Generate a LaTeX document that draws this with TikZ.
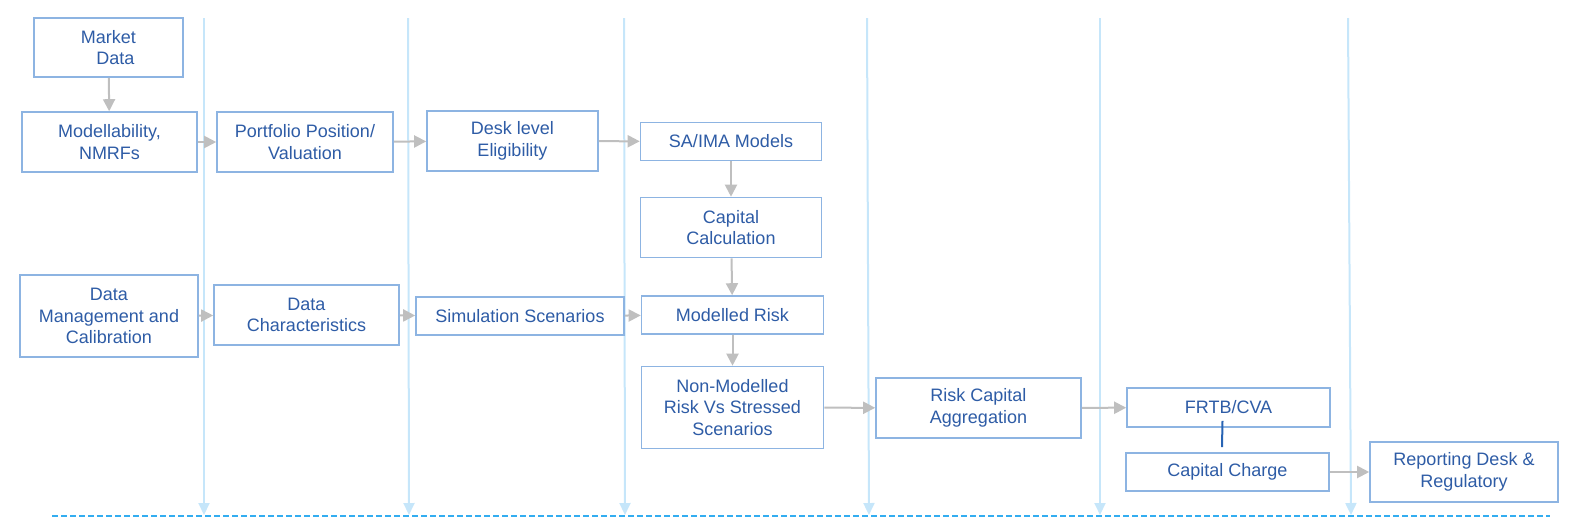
\documentclass[tikz,border=0pt]{standalone}
\usepackage{fontspec}
\setmainfont{Liberation Sans}
\usetikzlibrary{arrows.meta,calc}
\definecolor{txtblue}{RGB}{46,92,166}
\definecolor{boxblue}{RGB}{141,180,226}
\definecolor{arrgray}{RGB}{191,191,191}
\definecolor{laneblue}{RGB}{198,230,250}
\definecolor{dashblue}{RGB}{51,173,240}
\definecolor{linkblue}{RGB}{40,100,180}
\begin{document}
\begin{tikzpicture}[x=1pt,y=-1pt,
  box/.style={draw=boxblue, line width=1.6pt, fill=white, text=txtblue, align=center, inner sep=0pt, font=\fontsize{18}{21.5}\selectfont},
  flow/.style={draw=arrgray, line width=2pt, -{Triangle[length=12pt,width=12pt]}},
  lane/.style={draw=laneblue, line width=2pt, -{Triangle[length=12pt,width=11pt]}},
  dashline/.style={draw=dashblue, line width=2pt, dash pattern=on 6pt off 3pt},
  link/.style={draw=linkblue, line width=2pt}
]
\useasboundingbox (0,0) rectangle (1572,531);

% bottom dashed line
\coordinate (dl) at (52,515.5);
\coordinate (dr) at (1550,515.5);
\draw[dashline] (dl) -- (dr);

% lanes
\foreach \i/\xt/\xb in {1/204/204, 2/408/409, 3/624/625, 4/867/869, 5/1100/1100, 6/1348/1351} {
  \coordinate (lt\i) at (\xt,18);
  \coordinate (lb\i) at (\xb,515);
  \draw[lane] (lt\i) -- (lb\i);
}

% boxes
\node[box, minimum width=149pt, minimum height=59pt] (md) at (108.5,47.5) {Market\\\hspace*{14pt}Data};
\node[box, minimum width=175pt, minimum height=60pt] (mod) at (109.5,142) {Modellability,\\NMRFs};
\node[box, minimum width=176pt, minimum height=60pt] (port) at (305,142) {Portfolio Position/\\Valuation};
\node[box, minimum width=171pt, minimum height=60pt] (desk) at (512.5,141) {Desk level\\Eligibility};
\node[box, minimum width=181pt, minimum height=38pt] (sa) at (731,141.5) {SA/IMA Models};
\node[box, minimum width=181pt, minimum height=60pt] (cap) at (731,227.5) {Capital\\Calculation};
\node[box, minimum width=178pt, minimum height=82pt] (dm) at (109,316) {Data\\Management and\\Calibration};
\node[box, minimum width=185pt, minimum height=60pt] (dc) at (306.5,315) {Data\\Characteristics};
\node[box, minimum width=208pt, minimum height=38pt] (sim) at (520,316) {Simulation Scenarios};
\node[box, minimum width=182pt, minimum height=38pt] (mr) at (732.5,315) {Modelled Risk};
\node[box, minimum width=182pt, minimum height=82pt] (nm) at (732.5,407.5) {Non-Modelled\\Risk Vs Stressed\\Scenarios};
\node[box, minimum width=205pt, minimum height=60pt] (rca) at (978.5,408) {Risk Capital\\Aggregation};
\node[box, minimum width=203pt, minimum height=39pt] (frtb) at (1228.5,407.5) {FRTB/CVA};
\node[box, minimum width=203pt, minimum height=38pt] (cc) at (1227.5,472) {Capital Charge};
\node[box, minimum width=188pt, minimum height=60pt] (rep) at (1464,472) {Reporting Desk \&\\Regulatory};

% flow arrows
\draw[flow] (md) -- (mod);
\draw[flow] (mod) -- (port);
\draw[flow] (port) -- (desk);
\draw[flow] (desk) -- (sa);
\draw[flow] (sa) -- (cap);
\draw[flow] (cap) -- (mr);
\draw[flow] (mr) -- (nm);
\draw[flow] (dm) -- (dc);
\draw[flow] (dc) -- (sim);
\draw[flow] (sim) -- (mr);
\draw[flow] (nm) -- (rca);
\draw[flow] (rca) -- (frtb);
\draw[flow] (cc) -- (rep);

% link FRTB/CVA - Capital Charge
\coordinate (ka) at ($(frtb.south)+(-6,-7)$);
\coordinate (kb) at ($(cc.north)+(-5.5,-5)$);
\draw[link] (ka) -- (kb);
\end{tikzpicture}
\end{document}
